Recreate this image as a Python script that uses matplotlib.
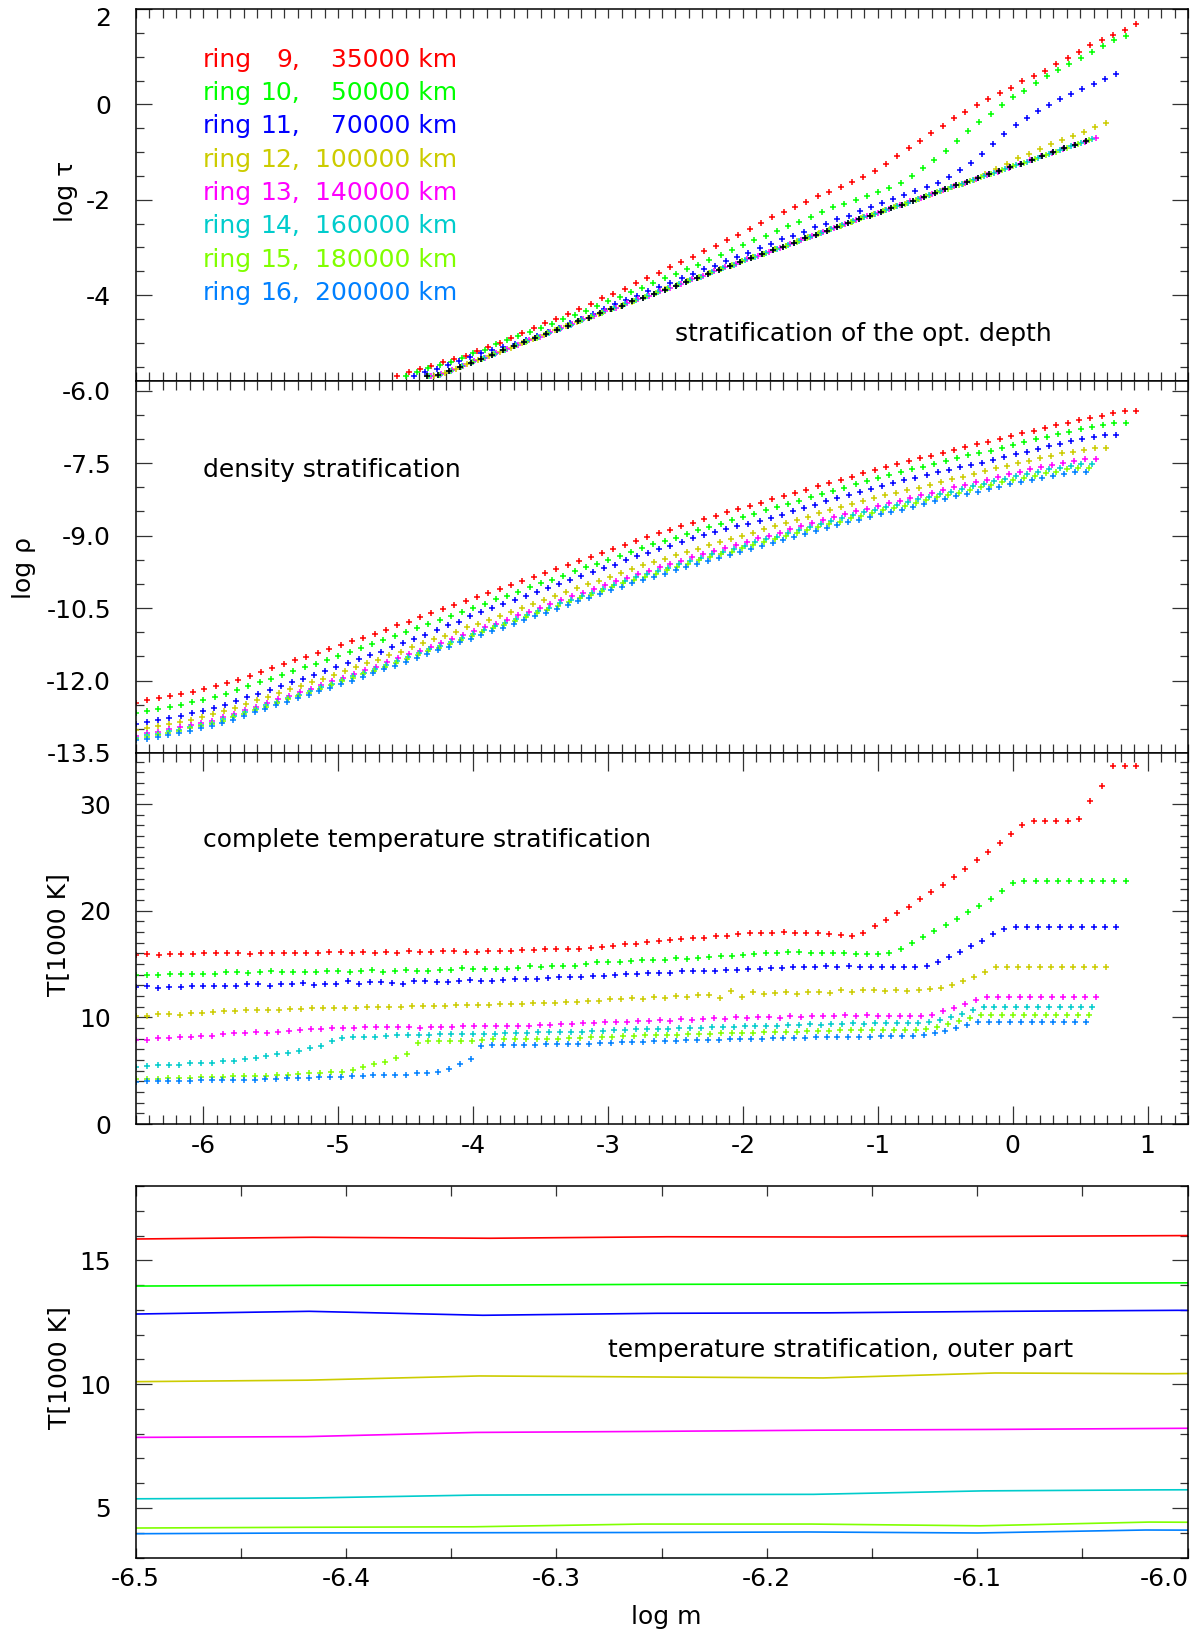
import numpy as np
import matplotlib
matplotlib.use("Agg")
import matplotlib.pyplot as plt
from matplotlib.ticker import MultipleLocator, FixedLocator, FormatStrFormatter, FuncFormatter
from matplotlib.transforms import offset_copy

plt.rcParams['font.family'] = ['DejaVu Sans']
plt.rcParams['axes.unicode_minus'] = False

# ---------------------------------------------------------------- rings
ring_numbers = ["9", "10", "11", "12", "13", "14", "15", "16"]
ring_radius_km = ["35000", "50000", "70000", "100000", "140000", "160000", "180000", "200000"]
ring_colors = ["#ff0000", "#00ff00", "#0000ff", "#cccc00",
               "#ff00ff", "#00cccc", "#80ff00", "#0080ff"]

# depth grid of every ring: n_depth points, equidistant in log m
n_depth = 89
log_m_top = -6.5
log_m_bottom = [0.914, 0.837, 0.765, 0.691, 0.617, 0.590, 0.565, 0.541]

# ---------------------------------------------------------------- log tau (deepest points, log tau > -5.8)
tau_09 = [-5.70, -5.62, -5.55, -5.48, -5.40, -5.34, -5.27, -5.17, -5.09, -5.00, -4.89, -4.79, -4.69, -4.58,
          -4.49, -4.39, -4.29, -4.18,
          -4.07, -3.97, -3.87, -3.75, -3.64, -3.53, -3.42, -3.31, -3.19, -3.08, -2.96, -2.85, -2.73, -2.61,
          -2.49, -2.37, -2.26, -2.15, -2.04, -1.93, -1.83, -1.73, -1.63, -1.53, -1.40, -1.26, -1.09, -0.92,
          -0.77, -0.60, -0.45, -0.29, -0.15, -0.01, 0.11, 0.24, 0.35, 0.48, 0.59, 0.71, 0.84, 0.97, 1.10,
          1.24, 1.35, 1.46, 1.57, 1.68]
tau_10 = [-5.70, -5.62, -5.52, -5.46, -5.40, -5.31, -5.22, -5.14, -5.03, -4.94, -4.86, -4.77, -4.69, -4.60,
          -4.51, -4.42, -4.33, -4.23,
          -4.13, -4.03, -3.94, -3.84, -3.74, -3.64, -3.55, -3.45, -3.37, -3.27, -3.16, -3.06, -2.95, -2.85,
          -2.75, -2.65, -2.55, -2.46, -2.36, -2.26, -2.16, -2.08, -2.00, -1.93, -1.84, -1.75, -1.64, -1.50,
          -1.34, -1.17, -0.98, -0.77, -0.56, -0.37, -0.20, -0.02, 0.15, 0.29, 0.45, 0.59, 0.73, 0.85, 0.98,
          1.10, 1.22, 1.34, 1.44]
tau_11 = [-5.70, -5.62, -5.55, -5.47, -5.38, -5.30, -5.22, -5.14, -5.08, -5.02, -4.94, -4.86, -4.77, -4.68,
          -4.59, -4.50, -4.40, -4.29,
          -4.19, -4.10, -4.01, -3.92, -3.83, -3.75, -3.65, -3.56, -3.46, -3.38, -3.29, -3.20, -3.11, -3.02,
          -2.93, -2.83, -2.75, -2.67, -2.58, -2.50, -2.41, -2.33, -2.23, -2.15, -2.06, -1.98, -1.90, -1.82,
          -1.74, -1.65, -1.52, -1.38, -1.22, -1.03, -0.84, -0.63, -0.44, -0.28, -0.14, -0.01, 0.11, 0.21,
          0.32, 0.43, 0.54, 0.63]
tau_12 = [-5.70, -5.63, -5.54, -5.45, -5.36, -5.28, -5.19, -5.10, -5.01, -4.92, -4.83, -4.74, -4.65, -4.57,
          -4.48, -4.39, -4.30, -4.22, -4.14, -4.05, -3.97, -3.88, -3.80, -3.71, -3.63, -3.54, -3.46, -3.38,
          -3.29, -3.21, -3.13, -3.04, -2.96, -2.87, -2.79, -2.70, -2.62, -2.54, -2.46, -2.37, -2.30, -2.22,
          -2.14, -2.06, -1.98, -1.90, -1.82, -1.74, -1.66, -1.58, -1.47, -1.36, -1.24, -1.13, -1.03, -0.93,
          -0.84, -0.74, -0.66, -0.57, -0.48, -0.39]
tau_13 = [-5.70, -5.66, -5.57, -5.48, -5.39, -5.31, -5.22, -5.13, -5.04, -4.95, -4.87, -4.78, -4.69, -4.60,
          -4.51, -4.43, -4.34, -4.26, -4.17, -4.09, -4.01, -3.92, -3.84, -3.76, -3.67, -3.59, -3.50, -3.42,
          -3.34, -3.25, -3.17, -3.09, -3.01, -2.92, -2.84, -2.76, -2.67, -2.59, -2.51, -2.43, -2.35, -2.27,
          -2.19, -2.11, -2.03, -1.96, -1.88, -1.80, -1.72, -1.64, -1.56, -1.49, -1.41, -1.33, -1.25, -1.17,
          -1.09, -1.01, -0.93, -0.85, -0.78, -0.70]
tau_14 = [-5.70, -5.67, -5.58, -5.49, -5.40, -5.32, -5.23, -5.14, -5.05, -4.97, -4.88, -4.79, -4.70, -4.62,
          -4.53, -4.44, -4.35, -4.27, -4.19, -4.10, -4.02, -3.94, -3.85, -3.77, -3.69, -3.61, -3.52, -3.44,
          -3.36, -3.27, -3.19, -3.11, -3.03, -2.94, -2.86, -2.78, -2.70, -2.61, -2.53, -2.45, -2.37, -2.29,
          -2.21, -2.13, -2.06, -1.98, -1.90, -1.82, -1.74, -1.67, -1.59, -1.51, -1.43, -1.35, -1.27, -1.20,
          -1.12, -1.04, -0.96, -0.88, -0.80, -0.73]
tau_15 = [-5.70, -5.68, -5.59, -5.50, -5.41, -5.33, -5.24, -5.15, -5.06, -4.98, -4.89, -4.80, -4.71, -4.63,
          -4.54, -4.45, -4.37, -4.28, -4.20, -4.12, -4.04, -3.95, -3.87, -3.79, -3.71, -3.62, -3.54, -3.46,
          -3.37, -3.29, -3.21, -3.13, -3.04, -2.96, -2.88, -2.80, -2.71, -2.63, -2.55, -2.47, -2.39, -2.31,
          -2.23, -2.15, -2.08, -2.00, -1.92, -1.84, -1.77, -1.69, -1.61, -1.53, -1.45, -1.38, -1.30, -1.22,
          -1.14, -1.06, -0.99, -0.91, -0.83, -0.75]
tau_16 = [-5.70, -5.68, -5.60, -5.51, -5.42, -5.33, -5.25, -5.16, -5.07, -4.99, -4.90, -4.81, -4.73, -4.64,
          -4.55, -4.47, -4.38, -4.30, -4.22, -4.13, -4.05, -3.97, -3.89, -3.80, -3.72, -3.64, -3.56, -3.47,
          -3.39, -3.31, -3.23, -3.14, -3.06, -2.98, -2.90, -2.81, -2.73, -2.65, -2.57, -2.49, -2.41, -2.33,
          -2.25, -2.17, -2.10, -2.02, -1.94, -1.86, -1.78, -1.70, -1.63, -1.55, -1.47, -1.39, -1.31, -1.24,
          -1.16, -1.08, -1.00, -0.92, -0.85, -0.77]

# ---------------------------------------------------------------- log rho
rho_09 = [-12.46, -12.41, -12.37, -12.32, -12.28, -12.23, -12.18, -12.12, -12.05, -11.98,
          -11.90, -11.82, -11.74, -11.66, -11.58, -11.51, -11.43, -11.35, -11.27, -11.19,
          -11.11, -11.03, -10.95, -10.86, -10.78, -10.69, -10.61, -10.52, -10.44, -10.36,
          -10.27, -10.19, -10.10, -10.02, -9.94, -9.85, -9.77, -9.69, -9.61, -9.52,
          -9.44, -9.36, -9.28, -9.20, -9.11, -9.03, -8.95, -8.88, -8.81, -8.74,
          -8.66, -8.59, -8.52, -8.45, -8.39, -8.32, -8.25, -8.18, -8.12, -8.05,
          -7.98, -7.91, -7.84, -7.78, -7.71, -7.65, -7.58, -7.52, -7.46, -7.40,
          -7.35, -7.29, -7.23, -7.17, -7.11, -7.06, -7.00, -6.94, -6.88, -6.83,
          -6.77, -6.71, -6.66, -6.61, -6.56, -6.52, -6.47, -6.43, -6.43]
rho_10 = [-12.68, -12.63, -12.59, -12.54, -12.50, -12.45, -12.40, -12.34, -12.27, -12.20,
          -12.12, -12.04, -11.96, -11.88, -11.80, -11.73, -11.65, -11.57, -11.49, -11.41,
          -11.33, -11.25, -11.17, -11.08, -11.00, -10.91, -10.83, -10.74, -10.66, -10.58,
          -10.49, -10.41, -10.32, -10.24, -10.16, -10.07, -9.99, -9.91, -9.83, -9.74,
          -9.66, -9.58, -9.50, -9.42, -9.33, -9.26, -9.18, -9.11, -9.04, -8.97,
          -8.89, -8.82, -8.75, -8.68, -8.62, -8.55, -8.48, -8.41, -8.35, -8.28,
          -8.21, -8.14, -8.07, -8.01, -7.94, -7.88, -7.81, -7.75, -7.69, -7.63,
          -7.58, -7.52, -7.46, -7.40, -7.34, -7.29, -7.24, -7.18, -7.12, -7.07,
          -7.01, -6.95, -6.90, -6.85, -6.80, -6.76, -6.71, -6.67, -6.67]
rho_11 = [-12.91, -12.86, -12.82, -12.77, -12.73, -12.68, -12.63, -12.57, -12.50, -12.43,
          -12.35, -12.27, -12.19, -12.11, -12.03, -11.96, -11.88, -11.80, -11.72, -11.64,
          -11.56, -11.48, -11.40, -11.31, -11.23, -11.13, -11.05, -10.96, -10.86, -10.78,
          -10.67, -10.59, -10.50, -10.42, -10.34, -10.25, -10.17, -10.09, -10.01, -9.92,
          -9.84, -9.76, -9.68, -9.60, -9.51, -9.43, -9.35, -9.28, -9.21, -9.14,
          -9.06, -8.99, -8.92, -8.86, -8.81, -8.75, -8.69, -8.63, -8.57, -8.50,
          -8.43, -8.36, -8.29, -8.23, -8.16, -8.10, -8.03, -7.97, -7.91, -7.85,
          -7.80, -7.74, -7.69, -7.64, -7.58, -7.54, -7.49, -7.43, -7.37, -7.32,
          -7.26, -7.20, -7.15, -7.10, -7.05, -7.01, -6.96, -6.92, -6.92]
rho_12 = [-13.03, -12.98, -12.94, -12.90, -12.86, -12.81, -12.76, -12.70, -12.64, -12.57,
          -12.49, -12.41, -12.34, -12.26, -12.18, -12.11, -12.03, -11.96, -11.88, -11.80,
          -11.72, -11.64, -11.57, -11.48, -11.40, -11.31, -11.23, -11.15, -11.07, -10.99,
          -10.90, -10.82, -10.74, -10.66, -10.58, -10.49, -10.41, -10.34, -10.26, -10.17,
          -10.09, -10.01, -9.94, -9.86, -9.77, -9.69, -9.61, -9.55, -9.48, -9.41,
          -9.33, -9.27, -9.20, -9.13, -9.07, -9.00, -8.94, -8.87, -8.81, -8.74,
          -8.67, -8.61, -8.54, -8.48, -8.41, -8.35, -8.29, -8.23, -8.17, -8.11,
          -8.06, -8.01, -7.95, -7.89, -7.83, -7.78, -7.73, -7.67, -7.61, -7.56,
          -7.50, -7.45, -7.40, -7.35, -7.30, -7.26, -7.22, -7.18, -7.18]
rho_13 = [-13.14, -13.09, -13.06, -13.01, -12.97, -12.93, -12.88, -12.83, -12.76, -12.69,
          -12.62, -12.54, -12.46, -12.39, -12.31, -12.24, -12.17, -12.09, -12.01, -11.94,
          -11.86, -11.78, -11.71, -11.62, -11.54, -11.46, -11.38, -11.30, -11.22, -11.14,
          -11.06, -10.98, -10.89, -10.82, -10.74, -10.65, -10.58, -10.50, -10.42, -10.34,
          -10.26, -10.18, -10.11, -10.03, -9.95, -9.87, -9.79, -9.73, -9.66, -9.59,
          -9.52, -9.45, -9.38, -9.32, -9.26, -9.19, -9.13, -9.06, -9.00, -8.94,
          -8.87, -8.81, -8.74, -8.68, -8.62, -8.56, -8.49, -8.44, -8.38, -8.32,
          -8.28, -8.22, -8.16, -8.11, -8.05, -8.00, -7.95, -7.89, -7.84, -7.79,
          -7.73, -7.68, -7.63, -7.58, -7.54, -7.50, -7.45, -7.42, -7.42]
rho_14 = [-13.18, -13.13, -13.10, -13.05, -13.02, -12.97, -12.93, -12.87, -12.80, -12.74,
          -12.66, -12.59, -12.51, -12.44, -12.36, -12.29, -12.22, -12.14, -12.07, -11.99,
          -11.91, -11.84, -11.76, -11.68, -11.60, -11.52, -11.44, -11.35, -11.28, -11.20,
          -11.12, -11.04, -10.95, -10.88, -10.80, -10.72, -10.64, -10.57, -10.49, -10.40,
          -10.33, -10.25, -10.18, -10.10, -10.02, -9.94, -9.86, -9.80, -9.73, -9.67,
          -9.59, -9.52, -9.46, -9.39, -9.34, -9.27, -9.21, -9.14, -9.08, -9.02,
          -8.95, -8.89, -8.82, -8.77, -8.70, -8.64, -8.58, -8.52, -8.47, -8.41,
          -8.36, -8.31, -8.25, -8.20, -8.14, -8.10, -8.04, -7.98, -7.93, -7.88,
          -7.83, -7.77, -7.72, -7.68, -7.63, -7.60, -7.55, -7.52, -7.52]
rho_15 = [-13.20, -13.16, -13.12, -13.08, -13.04, -12.99, -12.95, -12.89, -12.83, -12.76,
          -12.69, -12.61, -12.54, -12.46, -12.39, -12.32, -12.25, -12.17, -12.10, -12.02,
          -11.95, -11.87, -11.80, -11.71, -11.64, -11.55, -11.48, -11.39, -11.32, -11.24,
          -11.16, -11.08, -11.00, -10.92, -10.85, -10.76, -10.69, -10.61, -10.54, -10.45,
          -10.38, -10.30, -10.23, -10.15, -10.07, -9.99, -9.92, -9.85, -9.79, -9.72,
          -9.64, -9.58, -9.51, -9.45, -9.39, -9.33, -9.26, -9.20, -9.14, -9.08,
          -9.01, -8.95, -8.88, -8.83, -8.76, -8.71, -8.64, -8.59, -8.53, -8.48,
          -8.43, -8.38, -8.32, -8.27, -8.21, -8.17, -8.11, -8.06, -8.00, -7.96,
          -7.90, -7.85, -7.80, -7.76, -7.71, -7.68, -7.63, -7.60, -7.60]
rho_16 = [-13.24, -13.20, -13.16, -13.12, -13.08, -13.04, -12.99, -12.94, -12.87, -12.81,
          -12.74, -12.66, -12.59, -12.51, -12.44, -12.37, -12.30, -12.22, -12.15, -12.07,
          -12.00, -11.92, -11.85, -11.77, -11.69, -11.61, -11.53, -11.45, -11.37, -11.30,
          -11.21, -11.14, -11.05, -10.98, -10.91, -10.82, -10.75, -10.67, -10.60, -10.51,
          -10.44, -10.36, -10.29, -10.21, -10.13, -10.06, -9.98, -9.92, -9.85, -9.79,
          -9.71, -9.65, -9.58, -9.52, -9.46, -9.40, -9.34, -9.27, -9.22, -9.15,
          -9.09, -9.02, -8.96, -8.90, -8.84, -8.78, -8.72, -8.67, -8.61, -8.56,
          -8.51, -8.46, -8.40, -8.35, -8.29, -8.25, -8.19, -8.14, -8.09, -8.04,
          -7.99, -7.93, -7.89, -7.84, -7.80, -7.76, -7.72, -7.69, -7.69]

# ---------------------------------------------------------------- temperature [1000 K]
temp_09 = [15.86, 15.93, 15.89, 15.95, 15.94, 15.97, 16.00,
           16.00, 16.03, 16.06, 15.96, 16.03, 16.03, 16.03, 16.06, 16.03, 16.03, 16.09, 16.12, 16.00,
           16.12, 16.03, 16.15, 16.06, 16.21, 16.12, 16.15, 16.21, 16.21, 16.18, 16.18, 16.25, 16.25, 16.25,
           16.31, 16.34, 16.37, 16.40, 16.43, 16.43, 16.53, 16.56, 16.71, 16.87, 16.93, 17.03, 17.12, 17.24,
           17.31, 17.43, 17.49, 17.62, 17.68, 17.81, 17.87, 17.93, 17.96, 18.03, 17.96, 17.90, 17.87, 17.78,
           17.71, 17.62, 17.96, 18.53, 19.15, 19.78, 20.40, 21.09,
           21.74, 22.46, 23.21, 23.96, 24.74, 25.52, 26.33, 27.21, 28.09, 28.46, 28.46, 28.46, 28.46, 28.65,
           30.34, 31.68, 33.60, 33.60, 33.60]
temp_10 = [13.96, 13.99, 14.00, 14.03, 14.04, 14.07, 14.09,
           14.11, 14.26, 14.23, 14.20, 14.26, 14.36, 14.26, 14.26, 14.30, 14.30, 14.36, 14.39, 14.30,
           14.33, 14.45, 14.30, 14.33, 14.48, 14.36, 14.39, 14.42, 14.45, 14.61, 14.55, 14.55, 14.55, 14.58,
           14.67,
           14.78, 14.68, 14.78, 14.84, 14.81, 14.97, 15.15, 15.18, 15.15, 15.31, 15.37, 15.40, 15.43, 15.53,
           15.50, 15.59, 15.68, 15.75, 15.75, 15.87, 15.90, 16.03, 16.03, 16.09, 16.09, 16.06, 16.06, 16.03,
           16.00, 15.93, 15.90, 15.93, 16.06, 16.43, 17.00,
           17.50, 18.06, 18.65, 19.24, 19.87, 20.49, 21.15, 21.84, 22.56,
           22.77, 22.77, 22.77, 22.77, 22.77, 22.77, 22.77, 22.77, 22.77, 22.77]
temp_11 = [12.83, 12.94, 12.78, 12.86, 12.88, 12.94, 12.98, 12.93, 12.93, 12.96, 13.09, 13.15, 12.93,
           13.09, 13.09, 13.18, 13.06, 13.12, 13.12, 13.40, 13.09, 13.34, 13.28, 13.18, 13.12, 13.37,
           13.37, 13.34, 13.31, 13.40, 13.50, 13.46, 13.43, 13.50, 13.59,
           13.56, 13.56, 13.65, 13.78, 13.75, 13.75, 13.84, 13.90, 14.00, 14.03, 14.09, 14.12, 14.21, 14.21,
           14.34, 14.31, 14.37, 14.37, 14.43, 14.46, 14.53, 14.56, 14.59, 14.59, 14.68, 14.71, 14.68, 14.84,
           14.68, 14.78, 14.75, 14.75, 14.68, 14.68, 14.68, 14.68,
           14.78, 15.18, 15.65, 16.15, 16.65, 17.21, 17.78, 18.31,
           18.46, 18.46, 18.46, 18.46, 18.46, 18.46, 18.46, 18.46, 18.46, 18.46]
temp_12 = [10.10, 10.16, 10.33, 10.29, 10.25, 10.45, 10.42, 10.50, 10.59, 10.59, 10.65, 10.68, 10.68,
           10.74, 10.81, 10.78, 10.84, 10.87, 10.87, 10.90, 10.90, 11.00, 10.93, 10.96, 11.00, 11.03,
           11.06, 11.06, 11.09, 11.12, 11.12, 11.15, 11.18, 11.22, 11.25,
           11.28, 11.31, 11.37, 11.34, 11.43, 11.46, 11.56, 11.53, 11.68, 11.71, 11.78, 11.75, 11.87, 11.81,
           11.99, 11.87, 12.06, 12.12, 11.81, 12.46, 11.93, 12.40, 12.15, 12.28, 12.34, 12.21, 12.40, 12.40,
           12.31, 12.56, 12.37, 12.53, 12.53, 12.46, 12.53, 12.46, 12.53,
           12.62, 12.75, 13.00, 13.37, 13.81, 14.25, 14.70,
           14.75, 14.75, 14.75, 14.75, 14.75, 14.75, 14.75, 14.75, 14.75, 14.75]
temp_13 = [7.85, 7.88, 8.05, 8.09, 8.14, 8.17, 8.21, 8.25, 8.47, 8.50, 8.56, 8.59, 8.53, 8.62, 8.72,
           8.81, 8.87, 8.90, 9.03, 9.03, 9.03, 9.09, 9.09, 9.09, 9.09, 9.09, 9.03, 9.09, 9.12, 9.12, 9.15,
           9.15, 9.18, 9.18, 9.22, 9.20,
           9.22, 9.31, 9.31, 9.34, 9.37, 9.46, 9.43, 9.53, 9.56, 9.59, 9.62, 9.65, 9.72, 9.68, 9.84, 9.78,
           9.87, 9.90, 9.84, 10.00, 9.93, 10.03, 10.03, 9.96, 10.15, 10.06, 10.15, 10.09, 10.15, 10.18,
           10.15, 10.18, 10.12, 10.15, 10.15, 10.12,
           10.15, 10.25, 10.56, 10.87, 11.22, 11.59,
           11.93, 11.93, 11.93, 11.93, 11.93, 11.93, 11.93, 11.93, 11.93, 11.93, 11.93]
temp_14 = [5.37, 5.40, 5.52, 5.54, 5.55, 5.69, 5.73, 5.75, 5.87, 5.94, 6.09, 6.16, 6.37, 6.56, 6.62,
           6.84, 7.09, 7.34, 7.81, 8.06, 8.15, 8.19, 8.15, 8.25, 8.31, 8.31, 8.34, 8.37, 8.40, 8.44, 8.47,
           8.47, 8.44, 8.47, 8.50, 8.53,
           8.50, 8.59, 8.59, 8.59, 8.62, 8.65, 8.68, 8.75, 8.78, 8.78, 8.87, 8.87, 8.93, 8.93, 9.00, 9.00,
           9.03, 9.12, 9.12, 9.12, 9.19, 9.15, 9.22, 9.22, 9.25, 9.25, 9.34, 9.31, 9.37, 9.37, 9.43, 9.37,
           9.43, 9.43, 9.43, 9.43, 9.50,
           9.53, 9.72, 10.03, 10.34, 10.66,
           10.99, 10.99, 10.99, 10.99, 10.99, 10.99, 10.99, 10.99, 10.99, 10.99, 10.99]
temp_15 = [4.19, 4.22, 4.24, 4.35, 4.35, 4.28, 4.43, 4.40, 4.44, 4.47, 4.50, 4.50, 4.53, 4.59, 4.62,
           4.69, 4.75, 4.81, 4.87, 4.90, 5.09, 5.34, 5.62, 5.84, 6.22, 6.59, 7.56, 7.75, 7.81, 7.81, 7.78,
           7.81, 7.84, 7.94, 7.97, 7.94,
           7.94, 7.97, 8.00, 8.00, 8.06, 8.06, 8.12, 8.15, 8.19, 8.25, 8.25, 8.31, 8.31, 8.34, 8.37, 8.44,
           8.44, 8.47, 8.50, 8.53, 8.56, 8.56, 8.59, 8.62, 8.62, 8.65, 8.72, 8.72, 8.75, 8.78, 8.78, 8.81,
           8.81, 8.84, 8.81, 8.78, 8.81,
           8.87, 9.06, 9.34, 9.62, 9.90,
           10.19, 10.19, 10.19, 10.19, 10.19, 10.19, 10.19, 10.19, 10.19, 10.19, 10.19]
temp_16 = [3.96, 3.99, 4.00, 4.01, 4.03, 3.99, 4.11, 4.09, 4.09, 4.12, 4.09, 4.15, 4.19, 4.22, 4.28,
           4.31, 4.34, 4.37, 4.44, 4.40, 4.53, 4.50, 4.56, 4.62, 4.59, 4.59, 4.75, 4.75, 4.87, 5.12, 5.62,
           6.09, 7.31, 7.37, 7.40, 7.40,
           7.37, 7.44, 7.47, 7.47, 7.50, 7.53, 7.53, 7.59, 7.62, 7.65, 7.69, 7.72, 7.75, 7.78, 7.81, 7.84,
           7.87, 7.90, 7.90, 7.94, 7.97, 8.00, 8.00, 8.03, 8.06, 8.09, 8.09, 8.12, 8.15, 8.15, 8.15, 8.19,
           8.19, 8.22, 8.22, 8.22, 8.25,
           8.31, 8.50, 8.74, 9.00, 9.25,
           9.56, 9.56, 9.56, 9.56, 9.56, 9.56, 9.56, 9.56, 9.56, 9.56, 9.56]

tau_rings = [tau_09, tau_10, tau_11, tau_12, tau_13, tau_14, tau_15, tau_16]
rho_rings = [rho_09, rho_10, rho_11, rho_12, rho_13, rho_14, rho_15, rho_16]
temp_rings = [temp_09, temp_10, temp_11, temp_12, temp_13, temp_14, temp_15, temp_16]

log_m_rings = [np.linspace(log_m_top, last, n_depth) for last in log_m_bottom]

# ---------------------------------------------------------------- figure
W, H = 1200, 1639
fig = plt.figure(figsize=(W / 100, H / 100), dpi=100)


def frac_box(x0, y0, x1, y1):
    return [x0 / W, 1 - y1 / H, (x1 - x0) / W, (y1 - y0) / H]


ax1 = fig.add_axes(frac_box(136, 9, 1188, 381))
ax2 = fig.add_axes(frac_box(136, 381, 1188, 753))
ax3 = fig.add_axes(frac_box(136, 753, 1188, 1124))
ax4 = fig.add_axes(frac_box(135.5, 1186, 1187.5, 1557.5))

FS = 18
mk = dict(linestyle='none', marker='+', markersize=5, markeredgewidth=1.1)

for ax in (ax1, ax2, ax3, ax4):
    for s in ax.spines.values():
        s.set_linewidth(1.1)
    ax.tick_params(which='both', direction='in', top=True, right=True,
                   width=0.9, colors='#333333', labelcolor='black', labelsize=FS)
    ax.tick_params(axis='y', which='major', length=11.5, pad=18)
    ax.tick_params(axis='y', which='minor', length=6)

for ax in (ax1, ax2, ax3):
    ax.set_xlim(-6.5, 1.3)
    ax.xaxis.set_major_locator(MultipleLocator(1))
    ax.xaxis.set_minor_locator(MultipleLocator(0.1))

for ax in (ax1, ax2):
    ax.tick_params(axis='x', which='both', length=6.5, labelbottom=False)

ax3.tick_params(axis='x', which='major', length=13, pad=7)
ax3.tick_params(axis='x', which='minor', length=6.5)
ax3.xaxis.set_major_formatter(FormatStrFormatter('%d'))

# optical depth
ax1.set_ylim(-5.8, 2.0)
ax1.yaxis.set_major_locator(FixedLocator([-4, -2, 0, 2]))
ax1.set_yticklabels(['-4', '-2', '0', ''])
ax1.yaxis.set_minor_locator(MultipleLocator(0.5))
fig.text(111 / W, 1 - 19 / H, '2', ha='right', va='center', fontsize=FS)
for x, y, c in zip(log_m_rings, tau_rings, ring_colors):
    ax1.plot(x[-len(y):], y, color=c, **mk)
ax1.plot(log_m_rings[7][-len(tau_16):], tau_16, color='black', **mk)

# density
ax2.set_ylim(-13.5, -5.8)
ax2.yaxis.set_major_locator(MultipleLocator(1.5))
ax2.yaxis.set_minor_locator(MultipleLocator(0.5))
ax2.yaxis.set_major_formatter(FormatStrFormatter('%.1f'))
for x, y, c in zip(log_m_rings, rho_rings, ring_colors):
    ax2.plot(x, y, color=c, **mk)

# complete temperature run
ax3.set_ylim(0, 34.8)
ax3.yaxis.set_major_locator(MultipleLocator(10))
ax3.yaxis.set_minor_locator(MultipleLocator(1))
ax3.yaxis.set_major_formatter(FormatStrFormatter('%d'))
for x, y, c in zip(log_m_rings, temp_rings, ring_colors):
    ax3.plot(x, y, color=c, **mk)

# outer part of the temperature run
ax4.set_xlim(-6.5, -6.0)
ax4.set_ylim(3, 18)
ax4.xaxis.set_major_locator(MultipleLocator(0.1))
ax4.xaxis.set_minor_locator(MultipleLocator(0.05))
# the right-most label is set flush with the frame so it stays inside the figure
ax4.xaxis.set_major_formatter(FuncFormatter(lambda v, p: '' if v > -6.05 else '%.1f' % v))
ax4.tick_params(axis='x', which='both', length=7, pad=7)
ax4.text(1.0, 0.0, '-6.0', transform=offset_copy(ax4.transAxes, fig=fig, x=1, y=-7, units='points'),
         ha='right', va='top', fontsize=FS)
ax4.yaxis.set_major_locator(MultipleLocator(5))
ax4.yaxis.set_minor_locator(MultipleLocator(1))
ax4.yaxis.set_major_formatter(FormatStrFormatter('%d'))
for x, y, c in zip(log_m_rings, temp_rings, ring_colors):
    ax4.plot(x, y, color=c, linewidth=1.2)

# axis titles
fig.text(66 / W, 1 - 191 / H, 'log τ', rotation=90, ha='center', va='center', fontsize=FS)
fig.text(24 / W, 1 - 568 / H, 'log ρ', rotation=90, ha='center', va='center', fontsize=FS)
fig.text(58 / W, 1 - 935 / H, 'T[1000 K]', rotation=90, ha='center', va='center', fontsize=FS)
fig.text(59 / W, 1 - 1368 / H, 'T[1000 K]', rotation=90, ha='center', va='center', fontsize=FS)
fig.text(666 / W, 1 - 1617 / H, 'log m', ha='center', va='center', fontsize=FS)

# panel captions
fig.text(675 / W, 1 - 341 / H, 'stratification of the opt. depth', fontsize=FS, va='baseline')
fig.text(203 / W, 1 - 477 / H, 'density stratification', fontsize=FS, va='baseline')
fig.text(203 / W, 1 - 847 / H, 'complete temperature stratification', fontsize=FS, va='baseline')
fig.text(608 / W, 1 - 1357 / H, 'temperature stratification, outer part', fontsize=FS, va='baseline')

# ring key
for i, (num, km, c) in enumerate(zip(ring_numbers, ring_radius_km, ring_colors)):
    yb = 1 - (66.7 + 33.33 * i) / H
    fig.text(203 / W, yb, 'ring', color=c, fontsize=FS, va='baseline', ha='left')
    fig.text(300 / W, yb, num + ',', color=c, fontsize=FS, va='baseline', ha='right')
    fig.text(457 / W, yb, km + ' km', color=c, fontsize=FS, va='baseline', ha='right')

fig.savefig('out.png', dpi=100)
